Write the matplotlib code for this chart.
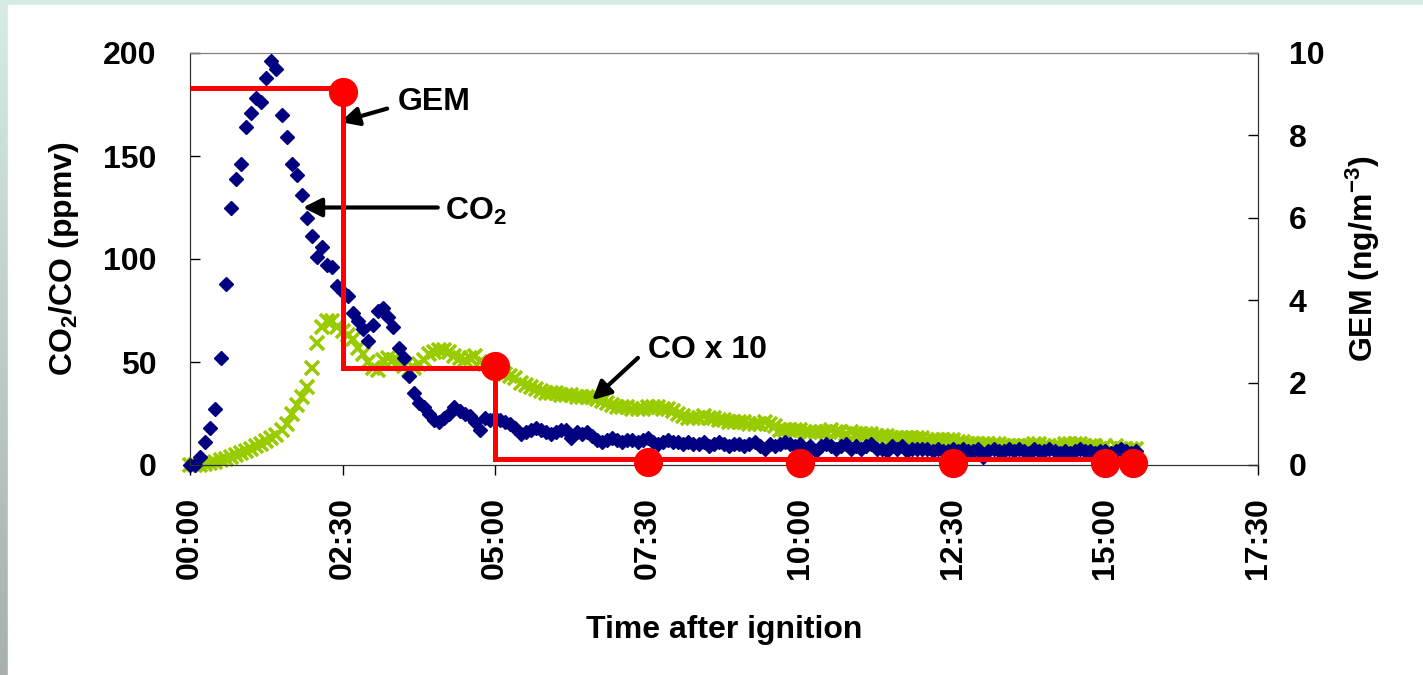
import numpy as np
import matplotlib
matplotlib.use("Agg")
import matplotlib.pyplot as plt
from matplotlib.patches import Rectangle

plt.rcParams["font.family"] = ["Liberation Sans", "DejaVu Sans"]
plt.rcParams["font.weight"] = "bold"
plt.rcParams["mathtext.fontset"] = "custom"
plt.rcParams["mathtext.rm"] = "Liberation Sans:bold"
plt.rcParams["mathtext.it"] = "Liberation Sans:bold"
plt.rcParams["mathtext.bf"] = "Liberation Sans:bold"

# --- data (minutes after ignition, sampled every 5 s) ---
step_s = 5
co2 = [
    0, 0, 4, 11, 18, 27, 52, 88, 125, 139, 146, 164,
    171, 178, 176, 188, 196, 192, 170, 159, 146, 141, 131, 120,
    111, 101, 106, 97, 96, 87, 84, 82, 74, 70, 66, 60,
    68, 75, 76, 72, 67, 57, 52, 43, 35, 30, 28, 25,
    22, 21, 23, 25, 28, 26, 25, 24, 21, 17, 23, 22,
    23, 22, 21, 20, 18, 15, 16, 17, 18, 17, 16, 15,
    16, 17, 17, 13, 16, 15, 16, 14, 12, 11, 12, 13,
    12, 11, 12, 12, 11, 12, 13, 11, 10, 11, 12, 11,
    11, 10, 11, 10, 10, 11, 9, 10, 11, 10, 9, 10,
    10, 9, 10, 11, 9, 8, 10, 9, 10, 11, 10, 9,
    10, 8, 9, 7, 9, 10, 9, 8, 9, 10, 8, 9,
    8, 9, 10, 8, 8, 7, 9, 8, 9, 7, 8, 8,
    8, 8, 7, 8, 7, 7, 8, 7, 8, 7, 7, 8,
    4, 7, 8, 7, 7, 8, 7, 8, 7, 6, 8, 7,
    7, 8, 7, 6, 7, 6, 7, 8, 7, 7, 6, 7,
    7, 6, 7, 8, 7, 6, 7,
]
co_x10 = [
    0, 0, 0, 0.5, 1, 1.5, 2.5, 3, 4, 5, 6, 7,
    8, 9, 10, 11.5, 13, 14.5, 17, 20, 25, 29, 33, 38,
    47, 59, 67, 70, 70, 67, 65, 63, 61, 57, 54, 50,
    47, 46, 51, 52, 51, 50, 48, 46, 47, 49, 51, 54,
    55, 56, 56, 55, 53, 52, 51, 52, 53, 50, 49, 48,
    46, 45, 44, 43, 42, 40, 39, 38, 37, 36, 35, 35,
    35, 34, 34, 34, 33, 33, 33, 33, 32, 31, 30, 29,
    28, 28, 28, 27, 27, 27, 28, 28, 28, 27, 27, 26,
    25, 24, 23, 23, 23, 24, 23, 23, 22, 22, 21, 21,
    21, 21, 20, 20, 20, 21, 20, 19, 17, 17, 17, 17,
    17, 16, 16, 16, 16, 16, 17, 16, 16, 15, 16, 15,
    15, 15, 15, 14, 14, 14, 13, 13, 13, 13, 13, 13,
    13, 12, 12, 12, 12, 12, 12, 11, 11, 10, 10, 10,
    10, 10, 10, 10, 9, 9, 9, 9, 9, 9, 10, 10,
    9, 9, 9, 9, 10, 10, 10, 10, 9, 9, 9, 8,
    9, 8, 9, 8, 8, 8, 8,
]
t_co2 = np.arange(len(co2)) * step_s / 60.0
t_co = np.arange(len(co_x10)) * step_s / 60.0

# GEM: integrated sample levels and sample points
gem_edges = [0, 2.5, 5.0, 15.45]
gem_level = [9.15, 2.35, 0.14]
gem_t = [2.5, 5.0, 7.5, 10.0, 12.5, 15.0, 15.45]
gem_v = [9.05, 2.4, 0.07, 0.05, 0.05, 0.05, 0.05]

xtick_pos = [0, 2.5, 5.0, 7.5, 10.0, 12.5, 15.0, 17.5]
xtick_lab = ["00:00", "02:30", "05:00", "07:30", "10:00", "12:30", "15:00", "17:30"]

fig = plt.figure(figsize=(14.23, 6.75), dpi=100)

# slide-like background: gradient strips on left/top, white panel
bg = fig.add_axes([0, 0, 1, 1], zorder=-10)
grad = np.linspace(0, 1, 256).reshape(-1, 1)
top_c = np.array([0.835, 0.925, 0.905])
bot_c = np.array([0.655, 0.690, 0.680])
img = top_c + (bot_c - top_c) * grad[..., None]
bg.imshow(img, aspect="auto", extent=[0, 1, 0, 1], origin="upper")
bg.add_patch(Rectangle((8 / 1423, 0), 1, 1 - 5 / 675, color="white"))
bg.set_xlim(0, 1)
bg.set_ylim(0, 1)
bg.axis("off")

ax1 = fig.add_axes([190 / 1423, 210 / 675, 1068 / 1423, 412 / 675])
ax1.set_facecolor("none")
ax2 = ax1.twinx()

ax1.plot(t_co2, co2, linestyle="none", marker="D", ms=7, color="#000080",
         clip_on=False, zorder=3)
ax1.plot(t_co, co_x10, linestyle="none", marker="x", ms=10, mew=2.6,
         color="#99cc00", clip_on=False, zorder=2)

ax2.stairs(gem_level, gem_edges, baseline=None, color="#ff0000", lw=3.6, zorder=4)
ax2.plot(gem_t, gem_v, linestyle="none", marker="o", ms=20, color="#ff0000",
         clip_on=False, zorder=5)

ax1.set_xlim(0, 17.5)
ax1.set_ylim(0, 200)
ax2.set_ylim(0, 10)
ax1.set_xticks(xtick_pos)
ax1.set_xticklabels(xtick_lab, rotation=90, fontsize=23, fontweight="bold")
ax1.set_yticks([0, 50, 100, 150, 200])
ax2.set_yticks([0, 2, 4, 6, 8, 10])
for lab in ax1.get_yticklabels() + ax2.get_yticklabels():
    lab.set_fontsize(23)
    lab.set_fontweight("bold")

ax1.tick_params(axis="x", direction="out", length=7, width=1, pad=16, colors="black")
ax1.tick_params(axis="y", direction="in", length=7, width=1, pad=24)
ax2.tick_params(axis="y", direction="in", length=7, width=1, pad=22)

for sp in ("left", "right", "bottom"):
    ax1.spines[sp].set_color("#303030")
    ax2.spines[sp].set_color("#303030")
ax1.spines["top"].set_color("#808080")
ax2.spines["top"].set_color("#808080")

ax1.set_xlabel("Time after ignition", fontsize=23, fontweight="bold", labelpad=26)
ax1.set_ylabel("CO$_2$/CO (ppmv)", fontsize=23, fontweight="bold", labelpad=16)
ax2.set_ylabel("GEM (ng/m$^{-3}$)", fontsize=23, fontweight="bold", labelpad=14)

arrow = dict(arrowstyle="-|>", lw=3, color="black", mutation_scale=28,
             shrinkA=0, shrinkB=0)
ax1.annotate("", xy=(2.46, 166.5), xytext=(3.23, 173), arrowprops=arrow, zorder=6)
ax1.text(3.41, 176, "GEM", fontsize=23, fontweight="bold", va="center", ha="left")
ax1.annotate("", xy=(1.85, 125), xytext=(4.06, 125), arrowprops=arrow, zorder=6)
ax1.text(4.18, 123, "CO$_2$", fontsize=23, fontweight="bold", va="center", ha="left")
ax1.annotate("", xy=(6.59, 31.5), xytext=(7.34, 52), arrowprops=arrow, zorder=6)
ax1.text(7.5, 56, "CO x 10", fontsize=23, fontweight="bold", va="center", ha="left")

fig.savefig("out.png", dpi=100)
